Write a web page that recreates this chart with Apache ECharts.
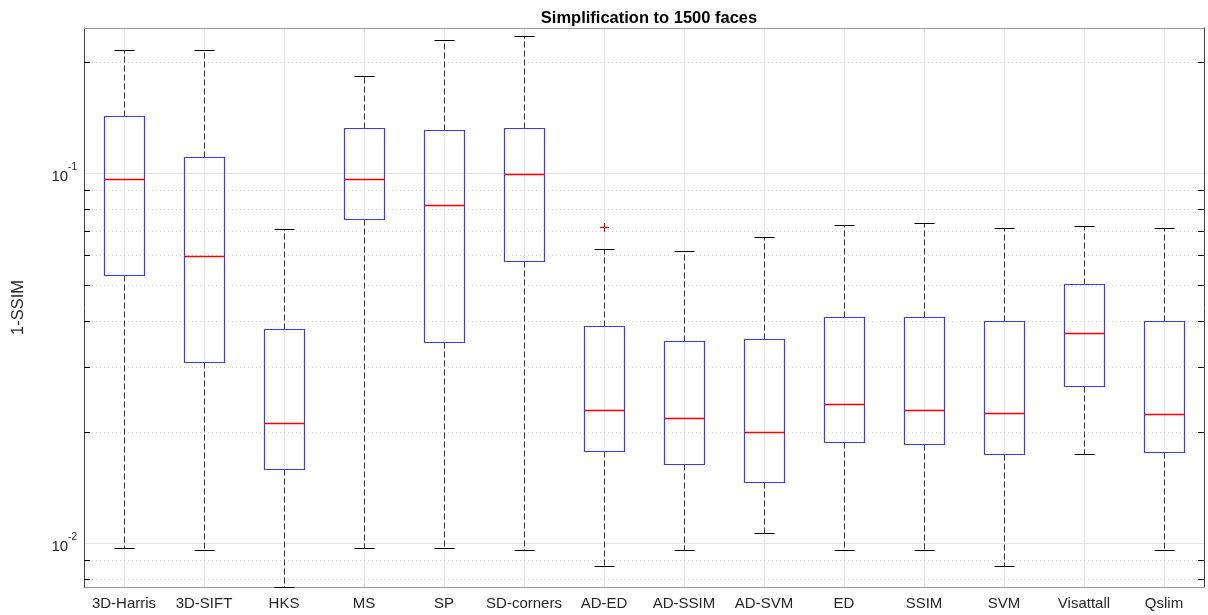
<!DOCTYPE html>
<html>
<head>
<meta charset="utf-8">
<script src="https://cdn.jsdelivr.net/npm/echarts@6/dist/echarts.min.js"></script>
<style>
  html, body { margin: 0; padding: 0; background: #fff; }
  #chart { width: 1208px; height: 615px; }
</style>
</head>
<body>
<div id="chart"></div>
<script>
// box statistics (1-SSIM, log scale)
const categories = ['3D-Harris', '3D-SIFT', 'HKS', 'MS', 'SP', 'SD-corners', 'AD-ED',
  'AD-SSIM', 'AD-SVM', 'ED', 'SSIM', 'SVM', 'Visattall', 'Qslim'];
const lowerWhisker = [0.00971, 0.00958, 0.00762, 0.00971, 0.00971, 0.00962, 0.00868,
  0.00962, 0.01069, 0.00962, 0.00962, 0.00868, 0.01740, 0.00962];
const q1 = [0.0531, 0.0310, 0.01584, 0.0754, 0.0351, 0.0581, 0.01779,
  0.01641, 0.01461, 0.01877, 0.01852, 0.01744, 0.02670, 0.01767];
const median = [0.0967, 0.0597, 0.0211, 0.0967, 0.0819, 0.0993, 0.02287,
  0.02177, 0.02003, 0.02386, 0.02297, 0.02256, 0.0371, 0.02241];
const q3 = [0.143, 0.1104, 0.0380, 0.1327, 0.1312, 0.1329, 0.0387,
  0.0352, 0.0357, 0.0410, 0.0410, 0.0400, 0.0502, 0.0398];
const upperWhisker = [0.216, 0.216, 0.0705, 0.1836, 0.2297, 0.2355, 0.0626,
  0.0615, 0.0671, 0.0727, 0.0732, 0.0713, 0.0722, 0.0710];
const outliers = [[6, 0.0716]]; // [category index, value]
const majorValues = [0.01, 0.1];
const minorValues = [0.008, 0.009, 0.02, 0.03, 0.04, 0.05, 0.06, 0.07, 0.08, 0.09, 0.2];
const yMin = 0.00762;
const yMax = 0.247;

const font = "'Liberation Sans', Arial, Helvetica, sans-serif";
const textColor = '#262626';

const boxData = categories.map((c, i) =>
  [i, lowerWhisker[i], q1[i], median[i], q3[i], upperWhisker[i]]);

const px = v => Math.round(v) + 0.5;

function renderBox(params, api) {
  const i = api.value(0);
  const bw = params.coordSys.width / categories.length;
  const cx = px(api.coord([i, api.value(3)])[0]);
  const y = k => px(api.coord([i, api.value(k)])[1]);
  const yLo = y(1), yQ1 = y(2), yMed = y(3), yQ3 = y(4), yHi = y(5);
  const hw = bw * 0.25, cw = bw * 0.125;
  const dash = { stroke: '#333', lineWidth: 1, lineDash: [6, 3] };
  const solid = { stroke: '#000', lineWidth: 1 };
  return {
    type: 'group',
    children: [
      { type: 'line', shape: { x1: cx, y1: yQ3, x2: cx, y2: yHi }, style: dash },
      { type: 'line', shape: { x1: cx, y1: yQ1, x2: cx, y2: yLo }, style: dash },
      { type: 'line', shape: { x1: cx - cw, y1: yHi, x2: cx + cw, y2: yHi }, style: solid },
      { type: 'line', shape: { x1: cx - cw, y1: yLo, x2: cx + cw, y2: yLo }, style: solid },
      { type: 'rect', shape: { x: cx - hw, y: yQ3, width: 2 * hw, height: yQ1 - yQ3 },
        style: { fill: 'none', stroke: '#3a3aff', lineWidth: 1.2 } },
      { type: 'line', shape: { x1: cx - hw, y1: yMed, x2: cx + hw, y2: yMed },
        style: { stroke: '#ff0000', lineWidth: 1.3 } }
    ]
  };
}

function renderOutlier(params, api) {
  const p = api.coord([api.value(0), api.value(1)]);
  const cx = px(p[0]), cy = px(p[1]);
  const st = { stroke: '#ff0000', lineWidth: 1.2 };
  return {
    type: 'group',
    children: [
      { type: 'line', shape: { x1: cx - 4.5, y1: cy, x2: cx + 4.5, y2: cy }, style: st },
      { type: 'line', shape: { x1: cx, y1: cy - 4.5, x2: cx, y2: cy + 4.5 }, style: st }
    ]
  };
}

// minor grid lines and minor ticks of the log axis (2..9 x 10^k)
function renderMinor(params, api) {
  const cs = params.coordSys;
  const y = px(api.coord([0, api.value(1)])[1]);
  const tick = { stroke: '#000', lineWidth: 1 };
  return {
    type: 'group',
    children: [
      { type: 'line', shape: { x1: cs.x, y1: y, x2: cs.x + cs.width, y2: y },
        style: { stroke: '#d4d4d4', lineWidth: 1, lineDash: [1, 3] } },
      { type: 'line', shape: { x1: cs.x, y1: y, x2: cs.x + 6, y2: y }, style: tick },
      { type: 'line', shape: { x1: cs.x + cs.width - 6, y1: y, x2: cs.x + cs.width, y2: y }, style: tick }
    ]
  };
}

function powLabel(value) {
  const e = Math.log10(value);
  const r = Math.round(e);
  if (Math.abs(e - r) > 1e-6) return '';
  return '{b|10}{s|' + r + '}';
}

const chart = echarts.init(document.getElementById('chart'));
chart.setOption({
  animation: false,
  title: {
    text: 'Simplification to 1500 faces',
    left: 644,
    textAlign: 'center',
    top: 5,
    textStyle: { fontFamily: font, fontSize: 16.5, fontWeight: 'bold', color: '#000' }
  },
  grid: { left: 84, right: 4, top: 28, bottom: 28 },
  xAxis: [{
    type: 'category',
    data: categories,
    position: 'bottom',
    axisLine: { lineStyle: { color: '#999', width: 1 } },
    axisTick: { inside: true, alignWithLabel: true, length: 11, lineStyle: { color: '#000' } },
    axisLabel: { interval: 0, fontFamily: font, fontSize: 15, color: textColor, margin: 9 },
    splitLine: { show: true, alignWithLabel: true, lineStyle: { color: '#e6e6e6' } }
  }, {
    type: 'category',
    data: categories,
    position: 'top',
    axisLine: { lineStyle: { color: '#999', width: 1 } },
    axisTick: { inside: true, alignWithLabel: true, length: 11, lineStyle: { color: '#000' } },
    axisLabel: { show: false }
  }],
  yAxis: [{
    type: 'log',
    logBase: 10,
    min: yMin,
    max: yMax,
    position: 'left',
    name: '1-SSIM',
    nameLocation: 'middle',
    nameGap: 57,
    nameTextStyle: { fontFamily: font, fontSize: 16.5, color: textColor },
    axisLine: { show: true, lineStyle: { color: '#444' } },
    axisTick: { inside: true, length: 11, customValues: majorValues, lineStyle: { color: '#000' } },
    axisLabel: {
      margin: 7,
      customValues: majorValues,
      formatter: powLabel,
      rich: {
        b: { fontFamily: font, fontSize: 15, color: textColor, lineHeight: 22, verticalAlign: 'bottom' },
        s: { fontFamily: font, fontSize: 10, color: textColor, lineHeight: 12, verticalAlign: 'top' }
      }
    },
    splitLine: { show: true, lineStyle: { color: '#e6e6e6' } }
  }, {
    type: 'log',
    logBase: 10,
    min: yMin,
    max: yMax,
    position: 'right',
    axisLine: { show: true, lineStyle: { color: '#444' } },
    axisTick: { inside: true, length: 11, customValues: majorValues, lineStyle: { color: '#000' } },
    axisLabel: { show: false, customValues: majorValues },
    splitLine: { show: false }
  }],
  series: [{
    type: 'custom',
    name: 'minor',
    z: 1,
    silent: true,
    renderItem: renderMinor,
    data: minorValues.map(v => [0, v]),
    encode: { x: 0, y: 1 }
  }, {
    type: 'custom',
    name: 'boxes',
    z: 5,
    renderItem: renderBox,
    data: boxData,
    encode: { x: 0, y: [1, 2, 3, 4, 5] }
  }, {
    type: 'custom',
    name: 'outliers',
    z: 6,
    renderItem: renderOutlier,
    data: outliers,
    encode: { x: 0, y: 1 }
  }]
});
</script>
</body>
</html>
